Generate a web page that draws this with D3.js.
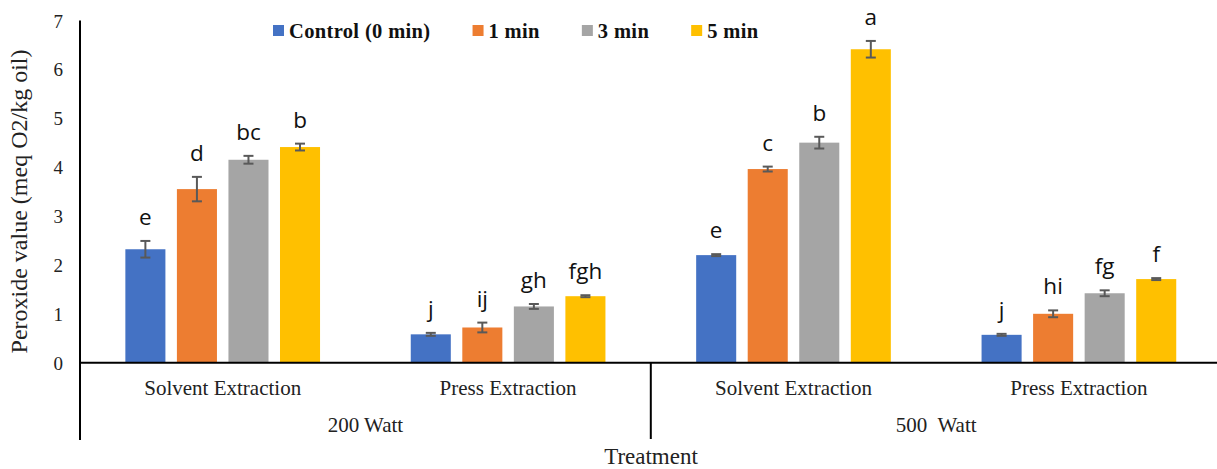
<!DOCTYPE html>
<html>
<head>
<meta charset="utf-8">
<script src="https://cdn.jsdelivr.net/npm/d3@7"></script>
<style>
  html, body { margin: 0; padding: 0; background: #fff; }
  svg { display: block; }
</style>
</head>
<body>
<svg id="chart" width="1217" height="469"></svg>
<script>
// ---------- data ----------
const categories = ["Solvent Extraction", "Press Extraction", "Solvent Extraction", "Press Extraction"];
const powers = ["200 Watt", "500  Watt"];
const seriesNames = ["Control (0 min)", "1 min", "3 min", "5 min"];
const seriesColors = ["#4472C4", "#ED7D31", "#A5A5A5", "#FFC000"];

const control = [2.32, 0.58, 2.20, 0.57];
const min1    = [3.55, 0.72, 3.96, 1.00];
const min3    = [4.15, 1.15, 4.50, 1.42];
const min5    = [4.41, 1.36, 6.41, 1.71];

const errControl = [0.17, 0.03, 0.02, 0.02];
const errMin1    = [0.25, 0.10, 0.05, 0.07];
const errMin3    = [0.08, 0.05, 0.12, 0.06];
const errMin5    = [0.07, 0.02, 0.17, 0.02];

const letControl = ["e", "j", "e", "j"];
const letMin1    = ["d", "ij", "c", "hi"];
const letMin3    = ["bc", "gh", "b", "fg"];
const letMin5    = ["b", "fgh", "a", "f"];

const yTicks = [0, 1, 2, 3, 4, 5, 6, 7];
const yTitle = "Peroxide value (meq O2/kg oil)";
const xTitle = "Treatment";

// ---------- build ----------
const values = [control, min1, min3, min5];
const errors = [errControl, errMin1, errMin3, errMin5];
const letters = [letControl, letMin1, letMin3, letMin5];

const svg = d3.select("#chart");
const left = 80, right = 1221.6, y0px = 362.7, y7px = 20.4;

const catKeys = categories.map((c, i) => i);
const x0 = d3.scaleBand().domain(catKeys).range([left, right]).padding(0);
const x1 = d3.scaleBand().domain(d3.range(seriesNames.length))
  .range([0, x0.bandwidth()]).paddingInner(0.223).paddingOuter(0.88);
const y = d3.scaleLinear().domain([0, 7]).range([y0px, y7px]);

const serif = "'Liberation Serif', 'Times New Roman', serif";
const sans = "'Open Sans', sans-serif";

// bars
const groups = svg.append("g").selectAll("g")
  .data(catKeys).join("g")
  .attr("transform", d => `translate(${x0(d)},0)`);

groups.each(function(ci) {
  const g = d3.select(this);
  seriesNames.forEach((s, si) => {
    const v = values[si][ci], e = errors[si][ci];
    const bx = x1(si), bw = x1.bandwidth();
    g.append("rect")
      .attr("x", bx).attr("width", bw)
      .attr("y", y(v)).attr("height", y(0) - y(v))
      .attr("fill", seriesColors[si]);
    const cx = bx + bw / 2;
    const eg = g.append("g").attr("stroke", "#595959").attr("stroke-width", 2);
    eg.append("line").attr("x1", cx).attr("x2", cx).attr("y1", y(v + e)).attr("y2", y(v - e));
    eg.append("line").attr("x1", cx - 5).attr("x2", cx + 5).attr("y1", y(v + e)).attr("y2", y(v + e));
    eg.append("line").attr("x1", cx - 5).attr("x2", cx + 5).attr("y1", y(v - e)).attr("y2", y(v - e));
    g.append("text")
      .attr("x", cx).attr("y", y(v + e) - 16)
      .attr("text-anchor", "middle")
      .attr("font-family", sans).attr("font-size", 22.5).attr("fill", "#111")
      .text(letters[si][ci]);
  });
});

// y axis (labels only, no ticks)
const yAxis = d3.axisLeft(y).tickValues(yTicks).tickSize(0).tickPadding(0).tickFormat(d3.format("d"));
const ya = svg.append("g").attr("transform", `translate(63,0)`).call(yAxis);
ya.select(".domain").remove();
ya.selectAll("text").attr("font-family", serif).attr("font-size", 19).attr("fill", "#222").attr("dy", "0.35em");

// axis lines
svg.append("line").attr("x1", left).attr("x2", 1217).attr("y1", y(0)).attr("y2", y(0))
  .attr("stroke", "#000").attr("stroke-width", 2);
svg.append("line").attr("x1", left).attr("x2", left).attr("y1", y(7)).attr("y2", 440)
  .attr("stroke", "#000").attr("stroke-width", 2);
svg.append("line").attr("x1", x0(2)).attr("x2", x0(2)).attr("y1", y(0)).attr("y2", 439)
  .attr("stroke", "#000").attr("stroke-width", 2);

// category labels
const xAxis = d3.axisBottom(x0).tickSize(0).tickPadding(0).tickFormat(i => categories[i]);
const xa = svg.append("g").attr("transform", `translate(0,${y(0)})`).call(xAxis);
xa.select(".domain").remove();
xa.selectAll("text").attr("font-family", serif).attr("font-size", 21).attr("fill", "#222")
  .attr("dy", null).attr("y", 32);

// power labels
powers.forEach((p, pi) => {
  const cx = (x0(pi * 2) + x0(pi * 2 + 1) + x0.bandwidth()) / 2;
  svg.append("text").attr("x", cx).attr("y", 432).attr("text-anchor", "middle")
    .attr("font-family", serif).attr("font-size", 21).attr("fill", "#222")
    .style("white-space", "pre").text(p);
});

// axis titles
svg.append("text").attr("x", 651).attr("y", 464).attr("text-anchor", "middle")
  .attr("font-family", serif).attr("font-size", 23).attr("fill", "#222").text(xTitle);
svg.append("text").attr("transform", `translate(27,${(50 + 353) / 2}) rotate(-90)`)
  .attr("text-anchor", "middle")
  .attr("font-family", serif).attr("font-size", 24).attr("fill", "#222").text(yTitle);

// legend
const leg = svg.append("g");
let lx = 273;
seriesNames.forEach((s, si) => {
  leg.append("rect").attr("x", lx).attr("y", 25).attr("width", 11).attr("height", 11).attr("fill", seriesColors[si]);
  const t = leg.append("text").attr("x", lx + 16).attr("y", 38)
    .attr("font-family", serif).attr("font-weight", "bold").attr("font-size", 20.5)
    .attr("letter-spacing", 0.35).attr("fill", "#111")
    .text(s);
  lx = lx + 16 + t.node().getComputedTextLength() + 42;
});
</script>
</body>
</html>
